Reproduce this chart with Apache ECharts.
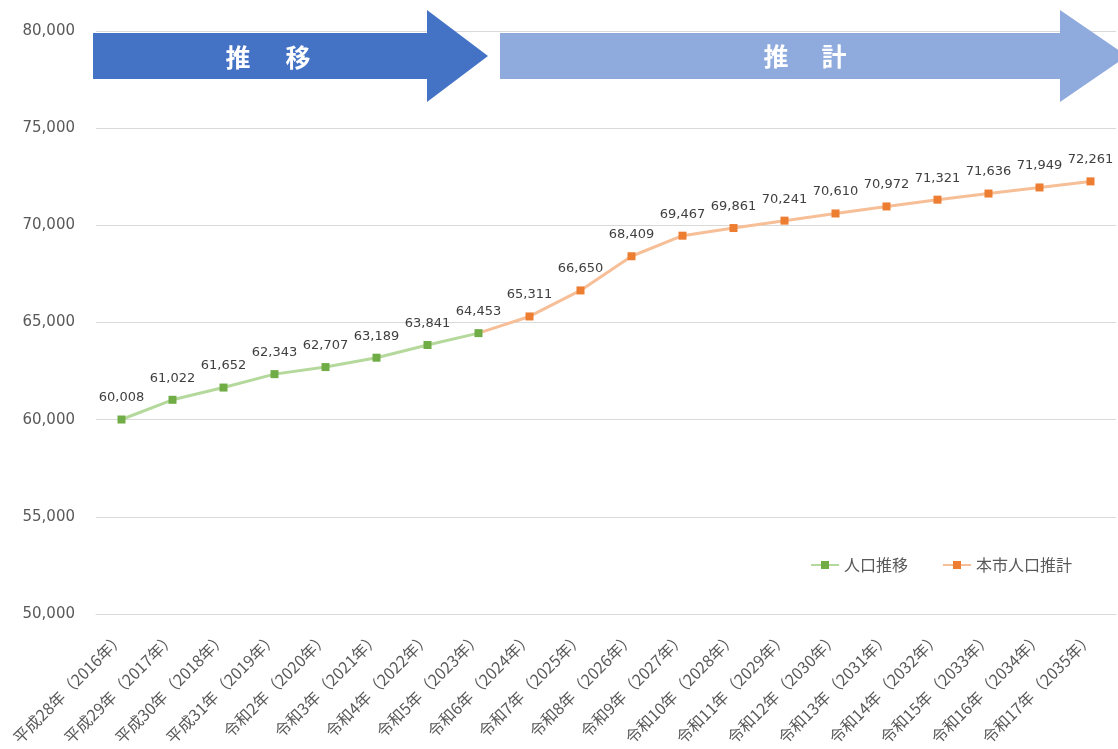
<!DOCTYPE html>
<html lang="ja">
<head>
<meta charset="utf-8">
<title>人口推移と本市人口推計</title>
<script src="https://cdn.jsdelivr.net/npm/echarts@6/dist/echarts.min.js"></script>
<style>
  html, body { margin: 0; padding: 0; background: #ffffff; }
  #chart { width: 1118px; height: 749px; }
</style>
</head>
<body>
<div id="chart"></div>
<script>
// 年次（和暦・西暦）
const years = [
  '平成28年（2016年）', '平成29年（2017年）', '平成30年（2018年）', '平成31年（2019年）',
  '令和2年（2020年）', '令和3年（2021年）', '令和4年（2022年）', '令和5年（2023年）',
  '令和6年（2024年）', '令和7年（2025年）', '令和8年（2026年）', '令和9年（2027年）',
  '令和10年（2028年）', '令和11年（2029年）', '令和12年（2030年）', '令和13年（2031年）',
  '令和14年（2032年）', '令和15年（2033年）', '令和16年（2034年）', '令和17年（2035年）'
];

// 人口推移（実績：2016〜2023年）
const actual = [60008, 61022, 61652, 62343, 62707, 63189, 63841, 64453];

// 本市人口推計（2024〜2035年）
const projection = [65311, 66650, 68409, 69467, 69861, 70241, 70610, 70972, 71321, 71636, 71949, 72261];

// 縦軸の目盛
const yMin = 50000;
const yMax = 80000;
const yStep = 5000;

// 推計の線は実績の最終年から描き始める（その点には記号・ラベルを付けない）
const actualSeries = actual.concat(new Array(years.length - actual.length).fill('-'));
const projectionSeries = new Array(actual.length - 1).fill('-')
  .concat([{ value: actual[actual.length - 1], symbol: 'none', label: { show: false } }])
  .concat(projection);

const fmt = v => Number(v).toLocaleString('en-US');
const jp = '"Noto Sans CJK JP", "Noto Sans", sans-serif';
const num = '"DejaVu Sans", "Noto Sans", sans-serif';

const chart = echarts.init(document.getElementById('chart'), null, { renderer: 'canvas' });

// 上部の矢印（推移・推計）
function arrow(x0, xHead, xTip, fill) {
  return {
    type: 'polygon',
    silent: true,
    z: 1,
    shape: {
      points: [[x0, 33], [xHead, 33], [xHead, 10], [xTip, 56], [xHead, 102], [xHead, 79], [x0, 79]]
    },
    style: { fill: fill }
  };
}
function word(ch, x, y) {
  return {
    type: 'text',
    silent: true,
    z: 2,
    x: x, y: y,
    style: {
      text: ch,
      fill: '#ffffff',
      font: 'bold 25px ' + jp,
      align: 'center',
      verticalAlign: 'middle'
    }
  };
}

const dataLabel = {
  show: true,
  position: 'top',
  distance: 11,
  color: '#404040',
  fontSize: 13,
  fontFamily: num,
  formatter: p => fmt(p.value)
};

chart.setOption({
  animation: false,
  textStyle: { fontFamily: jp },
  grid: { left: 96, right: 2, top: 31, bottom: 135, containLabel: false },
  legend: {
    left: 805,
    top: 552,
    itemWidth: 28,
    itemHeight: 10,
    itemGap: 34,
    textStyle: { color: '#595959', fontSize: 16, fontFamily: jp },
    data: ['人口推移', '本市人口推計']
  },
  xAxis: {
    type: 'category',
    data: years,
    boundaryGap: true,
    axisLine: { show: true, lineStyle: { color: '#d9d9d9', width: 1 } },
    axisTick: { show: false },
    axisLabel: {
      rotate: 45,
      interval: 0,
      margin: 21,
      color: '#595959',
      fontSize: 16,
      fontFamily: jp
    }
  },
  yAxis: {
    type: 'value',
    min: yMin,
    max: yMax,
    interval: yStep,
    axisLine: { show: false },
    axisTick: { show: false },
    splitLine: { lineStyle: { color: '#d9d9d9', width: 1 } },
    axisLabel: {
      margin: 21,
      color: '#595959',
      fontSize: 15,
      fontFamily: num,
      formatter: fmt
    }
  },
  series: [
    {
      name: '人口推移',
      type: 'line',
      data: actualSeries,
      symbol: 'rect',
      symbolSize: 8,
      z: 4,
      itemStyle: { color: '#70ad47' },
      lineStyle: { color: '#b5d99c', width: 3 },
      label: dataLabel
    },
    {
      name: '本市人口推計',
      type: 'line',
      data: projectionSeries,
      symbol: 'rect',
      symbolSize: 8,
      z: 3,
      itemStyle: { color: '#ed7d31' },
      lineStyle: { color: '#f6bf98', width: 3 },
      label: dataLabel
    }
  ],
  graphic: [
    arrow(93, 427, 488, '#4472c4'),
    arrow(500, 1060, 1127, '#8faadc'),
    word('推', 238, 57),
    word('移', 298, 57),
    word('推', 776, 56),
    word('計', 834, 56)
  ]
});
</script>
</body>
</html>
